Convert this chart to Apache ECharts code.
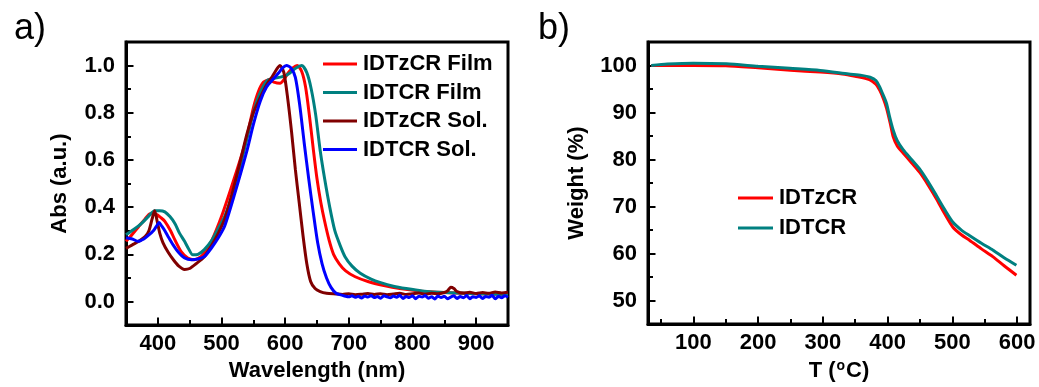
<!DOCTYPE html>
<html>
<head>
<meta charset="utf-8">
<script src="https://cdn.jsdelivr.net/npm/echarts@6/dist/echarts.min.js"></script>
<style>
  html, body { margin: 0; padding: 0; background: #fff; }
  #chart { width: 1039px; height: 387px; }
</style>
</head>
<body>
<div id="chart"></div>
<script>
// panel a: absorption, [wavelength nm, abs]
const idtzcrFilm = [
  [350, 0.255], [360, 0.285], [370, 0.318], [380, 0.35], [388, 0.372], [397, 0.37], [405, 0.355],
  [411, 0.34], [420, 0.3], [427, 0.26], [437, 0.21], [447, 0.184], [457, 0.177], [465, 0.185],
  [473, 0.205], [485, 0.26], [500, 0.36], [515, 0.48], [530, 0.606], [540, 0.7], [550, 0.82],
  [558, 0.89], [566, 0.93], [575, 0.94], [582, 0.93], [592, 0.925], [598, 0.94], [605, 0.97],
  [612, 0.99], [619, 1.0], [626, 0.975], [632, 0.91], [638, 0.79], [644, 0.65], [650, 0.52],
  [656, 0.42], [662, 0.34], [669, 0.26], [676, 0.2], [685, 0.16], [695, 0.13], [710, 0.105],
  [730, 0.085], [755, 0.068], [780, 0.055], [810, 0.045], [850, 0.038], [900, 0.033], [950, 0.03]
];
const idtcrFilm = [
  [350, 0.283], [362, 0.305], [374, 0.33], [385, 0.36], [395, 0.385], [403, 0.385], [411, 0.38],
  [419, 0.36], [427, 0.33], [434, 0.29], [442, 0.255], [448, 0.225], [455, 0.198], [463, 0.2],
  [473, 0.22], [485, 0.26], [495, 0.31], [505, 0.36], [520, 0.48], [530, 0.58], [540, 0.69],
  [550, 0.8], [560, 0.88], [571, 0.935], [580, 0.945], [590, 0.95], [599, 0.955], [608, 0.97],
  [617, 0.99], [626, 1.0], [634, 0.97], [641, 0.9], [648, 0.79], [655, 0.64], [662, 0.52],
  [670, 0.4], [678, 0.3], [686, 0.24], [694, 0.19], [705, 0.15], [718, 0.12], [735, 0.095],
  [750, 0.08], [770, 0.065], [790, 0.055], [815, 0.045], [850, 0.038], [900, 0.033], [950, 0.03]
];
const idtzcrSol = [
  [350, 0.225], [360, 0.24], [370, 0.255], [380, 0.275], [386, 0.3], [391, 0.35], [395, 0.385],
  [399, 0.34], [403, 0.29], [408, 0.25], [416, 0.21], [425, 0.175], [433, 0.15], [442, 0.136],
  [450, 0.14], [460, 0.16], [473, 0.19], [485, 0.24], [495, 0.29], [505, 0.35], [515, 0.44],
  [530, 0.6], [540, 0.71], [550, 0.8], [560, 0.86], [571, 0.92], [580, 0.955], [587, 0.986],
  [592, 1.0], [598, 0.97], [604, 0.86], [610, 0.72], [616, 0.56], [622, 0.42], [628, 0.28],
  [634, 0.16], [640, 0.085], [647, 0.055], [655, 0.042], [665, 0.035], [680, 0.032], [690, 0.03],
  [700, 0.033], [710, 0.029], [720, 0.031], [730, 0.034], [740, 0.03], [750, 0.033], [760, 0.029],
  [770, 0.032], [780, 0.035], [790, 0.03], [800, 0.033], [810, 0.036], [820, 0.031], [830, 0.035],
  [840, 0.033], [850, 0.038], [855, 0.045], [860, 0.06], [865, 0.055], [870, 0.042], [880, 0.036],
  [890, 0.039], [900, 0.034], [910, 0.038], [920, 0.035], [930, 0.04], [940, 0.036], [950, 0.039]
];
const idtcrSol = [
  [350, 0.27], [360, 0.265], [369, 0.255], [378, 0.265], [385, 0.28], [393, 0.3], [398, 0.32],
  [402, 0.335], [406, 0.32], [411, 0.3], [416, 0.276], [424, 0.24], [432, 0.21], [442, 0.185],
  [453, 0.177], [463, 0.18], [473, 0.19], [485, 0.23], [495, 0.27], [505, 0.32], [520, 0.45],
  [540, 0.64], [550, 0.75], [561, 0.85], [571, 0.91], [582, 0.945], [590, 0.97], [596, 0.99],
  [602, 1.0], [609, 0.99], [616, 0.95], [623, 0.83], [630, 0.67], [637, 0.52], [644, 0.38],
  [651, 0.25], [658, 0.16], [665, 0.1], [672, 0.06], [680, 0.035], [690, 0.026], [695, 0.022],
  [700, 0.02], [705, 0.024], [710, 0.018], [715, 0.022], [720, 0.015], [725, 0.023], [730, 0.019],
  [735, 0.025], [740, 0.017], [745, 0.021], [750, 0.014], [755, 0.024], [760, 0.02], [765, 0.016],
  [770, 0.023], [775, 0.018], [780, 0.026], [785, 0.013], [790, 0.021], [795, 0.017], [800, 0.024],
  [805, 0.012], [810, 0.022], [815, 0.019], [820, 0.025], [825, 0.014], [830, 0.02], [835, 0.011],
  [840, 0.023], [845, 0.017], [850, 0.022], [855, 0.012], [860, 0.019], [865, 0.024], [870, 0.013],
  [875, 0.021], [880, 0.016], [885, 0.025], [890, 0.012], [895, 0.02], [900, 0.017], [905, 0.024],
  [910, 0.013], [915, 0.021], [920, 0.018], [925, 0.026], [930, 0.012], [935, 0.022], [940, 0.016],
  [945, 0.024], [950, 0.018]
];

// panel b: TGA, [T degC, weight %]
const tgaIdtzcr = [
  [35, 100.0], [60, 100.0], [100, 100.0], [150, 99.95], [200, 99.5], [250, 99.0], [296, 98.6],
  [330, 98.2], [350, 97.7], [372, 97.0], [382, 96.0], [388, 94.7], [394, 92.8], [398.5, 90.9],
  [404, 87.8], [408.6, 84.9], [415, 82.9], [424, 81.4], [437, 79.3], [450, 77.2], [463, 74.5],
  [475.6, 71.6], [488, 68.5], [501, 65.6], [514, 64.0], [527, 62.8], [545, 61.0], [563, 59.3],
  [580, 57.4], [599, 55.4]
];
const tgaIdtcr = [
  [35, 100.0], [60, 100.3], [100, 100.5], [151, 100.35], [200, 99.85], [249, 99.4], [296, 98.95],
  [340, 98.2], [360, 97.9], [373, 97.5], [382, 96.8], [388, 95.4], [393, 93.8], [398.5, 91.9],
  [403, 89.2], [408.6, 86.3], [415, 84.0], [424, 82.1], [437, 80.0], [450, 77.9], [463, 75.2],
  [475.6, 72.3], [488, 69.4], [501, 66.65], [514, 65.0], [527, 63.8], [545, 62.2], [563, 60.7],
  [580, 59.1], [599, 57.5]
];

// tick values
const waveMajor = [400, 500, 600, 700, 800, 900];
const waveMinor = [450, 550, 650, 750, 850];
const absMajor = [0, 0.2, 0.4, 0.6, 0.8, 1.0];
const absMinor = [0.1, 0.3, 0.5, 0.7, 0.9];
const tempMajor = [100, 200, 300, 400, 500, 600];
const tempMinor = [50, 150, 250, 350, 450, 550];
const weightMajor = [50, 60, 70, 80, 90, 100];
const weightMinor = [55, 65, 75, 85, 95];

const FONT = '"Liberation Sans", Arial, sans-serif';
const labelStyle = {color: '#000', fontSize: 22, fontWeight: 'bold', fontFamily: FONT};

function mainAxis(opts) {
  return {
    type: 'value',
    gridIndex: opts.grid,
    min: opts.min,
    max: opts.max,
    position: opts.position,
    name: opts.name,
    nameLocation: 'middle',
    nameGap: opts.nameGap,
    nameTextStyle: Object.assign({}, labelStyle, opts.nameStyle || {}),
    axisLine: {show: true, onZero: false, lineStyle: {color: '#000', width: 3}},
    splitLine: {show: false},
    axisTick: {
      show: true,
      inside: true,
      length: 7.5,
      customValues: opts.ticks,
      lineStyle: {color: '#000', width: 2},
    },
    axisLabel: {
      show: true,
      customValues: opts.ticks,
      margin: opts.margin,
      formatter: opts.formatter,
      ...labelStyle,
    },
  };
}

function minorAxis(opts) {
  return {
    type: 'value',
    gridIndex: opts.grid,
    min: opts.min,
    max: opts.max,
    position: opts.position,
    axisLine: {show: false, onZero: false},
    splitLine: {show: false},
    axisLabel: {show: false},
    axisTick: {
      show: true,
      inside: true,
      length: 5,
      customValues: opts.ticks,
      lineStyle: {color: '#000', width: 2},
    },
  };
}

function line(name, data, color, xi, yi) {
  return {
    name: name,
    type: 'line',
    xAxisIndex: xi,
    yAxisIndex: yi,
    data: data,
    symbol: 'none',
    smooth: 0.25,
    lineStyle: {color: color, width: 3},
    itemStyle: {color: color},
  };
}

const chart = echarts.init(document.getElementById('chart'), null, {renderer: 'canvas'});
chart.setOption({
  animation: false,
  backgroundColor: '#fff',
  title: [
    {text: 'a)', left: 9, top: 6, textStyle: {fontSize: 36, fontWeight: 'normal', color: '#000', fontFamily: FONT}},
    {text: 'b)', left: 533, top: 6, textStyle: {fontSize: 36, fontWeight: 'normal', color: '#000', fontFamily: FONT}},
  ],
  grid: [
    {left: 126, top: 42, width: 382, height: 284, show: true, borderColor: '#000', borderWidth: 3, backgroundColor: 'transparent'},
    {left: 648, top: 42, width: 382, height: 284, show: true, borderColor: '#000', borderWidth: 3, backgroundColor: 'transparent'},
  ],
  legend: [
    {
      data: ['IDTzCR Film', 'IDTCR Film', 'IDTzCR Sol.', 'IDTCR Sol.'],
      orient: 'vertical',
      left: 323,
      top: 53,
      padding: 0,
      icon: 'rect',
      itemWidth: 34,
      itemHeight: 3,
      itemGap: 6.5,
      textStyle: {...labelStyle, fontSize: 22, padding: [0, 0, 0, 1]},
    },
    {
      data: ['IDTzCR', 'IDTCR'],
      orient: 'vertical',
      left: 738,
      top: 187,
      padding: 0,
      icon: 'rect',
      itemWidth: 35,
      itemHeight: 3,
      itemGap: 8,
      textStyle: {...labelStyle, fontSize: 22, padding: [0, 0, 0, 1]},
    },
  ],
  xAxis: [
    mainAxis({grid: 0, min: 350, max: 950, position: 'bottom', ticks: waveMajor, margin: 8,
      name: 'Wavelength (nm)', nameGap: 32}),
    minorAxis({grid: 0, min: 350, max: 950, position: 'bottom', ticks: waveMinor}),
    mainAxis({grid: 1, min: 30, max: 620, position: 'bottom', ticks: tempMajor, margin: 8,
      name: 'T ({s|o}C)', nameGap: 32,
      nameStyle: {rich: {s: {fontSize: 14, fontWeight: 'bold', fontFamily: FONT, color: '#000', verticalAlign: 'top', padding: [0, 1, 10, 1]}}}}),
    minorAxis({grid: 1, min: 30, max: 620, position: 'bottom', ticks: tempMinor}),
  ],
  yAxis: [
    mainAxis({grid: 0, min: -0.1, max: 1.1, position: 'left', ticks: absMajor, margin: 11,
      formatter: (v) => Number(v).toFixed(1), name: 'Abs (a.u.)', nameGap: 55}),
    minorAxis({grid: 0, min: -0.1, max: 1.1, position: 'left', ticks: absMinor}),
    mainAxis({grid: 1, min: 45, max: 105, position: 'left', ticks: weightMajor, margin: 11,
      name: 'Weight (%)', nameGap: 60}),
    minorAxis({grid: 1, min: 45, max: 105, position: 'left', ticks: weightMinor}),
  ],
  series: [
    line('IDTzCR Film', idtzcrFilm, '#ff0000', 0, 0),
    line('IDTCR Film', idtcrFilm, '#008080', 0, 0),
    line('IDTzCR Sol.', idtzcrSol, '#800000', 0, 0),
    line('IDTCR Sol.', idtcrSol, '#0000ff', 0, 0),
    line('IDTzCR', tgaIdtzcr, '#ff0000', 2, 2),
    line('IDTCR', tgaIdtcr, '#008080', 2, 2),
  ],
});
</script>
</body>
</html>
